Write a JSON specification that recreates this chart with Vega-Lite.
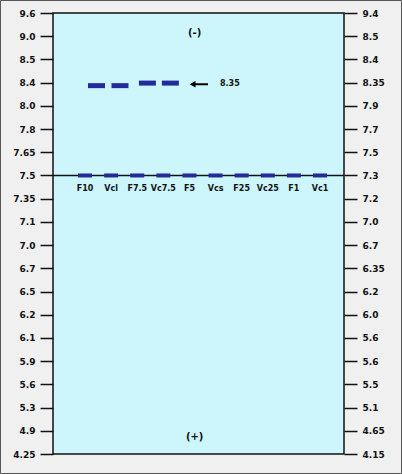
{
  "$schema": "https://vega.github.io/schema/vega-lite/v6.json",
  "width": 291,
  "height": 441,
  "autosize": {"type": "none"},
  "padding": {"left": 53, "top": 13, "right": 58, "bottom": 20},
  "background": "#f0f0f0",
  "config": {
    "view": {"fill": "#ccf6fc", "stroke": "#111111", "strokeWidth": 1.5},
    "font": "DejaVu Sans"
  },
  "datasets": {
    "bands": [
      {"lane": 1, "label": "F10", "pos": 7},
      {"lane": 2, "label": "Vcl", "pos": 7},
      {"lane": 3, "label": "F7.5", "pos": 7},
      {"lane": 4, "label": "Vc7.5", "pos": 7},
      {"lane": 5, "label": "F5", "pos": 7},
      {"lane": 6, "label": "Vcs", "pos": 7},
      {"lane": 7, "label": "F25", "pos": 7},
      {"lane": 8, "label": "Vc25", "pos": 7},
      {"lane": 9, "label": "F1", "pos": 7},
      {"lane": 10, "label": "Vc1", "pos": 7}
    ],
    "upper": [
      {"lane": 1.44, "pos": 3.13},
      {"lane": 2.34, "pos": 3.13},
      {"lane": 3.39, "pos": 3.02},
      {"lane": 4.27, "pos": 3.02}
    ],
    "notes": [
      {"lane": 5.2, "pos": 0.86, "text": "(-)"},
      {"lane": 5.2, "pos": 18.26, "text": "(+)"}
    ],
    "arrow": [
      {"from": 5.12, "to": 5.71, "pos": 3.07, "text": "8.35", "textLane": 6.17}
    ],
    "frame": [
      {"x1": -2.237, "x2": 13.122, "y1": -0.539, "y2": 19.84}
    ]
  },
  "encoding": {
    "x": {
      "field": "lane", "type": "quantitative",
      "scale": {"domain": [-0.226, 10.92], "nice": false, "zero": false},
      "axis": null
    },
    "y": {
      "field": "pos", "type": "quantitative",
      "scale": {"domain": [0, 19], "nice": false, "zero": false, "reverse": true},
      "axis": null
    }
  },
  "layer": [
    {
      "data": {"values": [{"pos": 0}]},
      "mark": {"type": "rule", "opacity": 0},
      "encoding": {
        "x": null,
        "y": {
          "field": "pos", "type": "quantitative",
          "scale": {"domain": [0, 19], "nice": false, "zero": false, "reverse": true},
          "axis": {
            "orient": "left",
            "values": [0,1,2,3,4,5,6,7,8,9,10,11,12,13,14,15,16,17,18,19],
            "labelExpr": "['9.6','9.0','8.5','8.4','8.0','7.8','7.65','7.5','7.35','7.1','7.0','6.7','6.5','6.2','6.1','5.9','5.6','5.3','4.9','4.25'][datum.value]",
            "title": null, "grid": false, "domain": false,
            "tickSize": 13, "tickColor": "#111111", "tickWidth": 1.5,
            "labelFont": "DejaVu Sans", "labelFontWeight": "bold", "labelFontSize": 9,
            "labelColor": "#111111", "labelPadding": 5, "labelFlush": false, "labelOverlap": false
          }
        }
      }
    },
    {
      "data": {"values": [{"pos": 0}]},
      "mark": {"type": "rule", "opacity": 0},
      "encoding": {
        "x": null,
        "y": {
          "field": "pos", "type": "quantitative",
          "scale": {"domain": [0, 19], "nice": false, "zero": false, "reverse": true},
          "axis": {
            "orient": "right",
            "values": [0,1,2,3,4,5,6,7,8,9,10,11,12,13,14,15,16,17,18,19],
            "labelExpr": "['9.4','8.5','8.4','8.35','7.9','7.7','7.5','7.3','7.2','7.0','6.7','6.35','6.2','6.0','5.6','5.6','5.5','5.1','4.65','4.15'][datum.value]",
            "title": null, "grid": false, "domain": false,
            "tickSize": 13, "tickColor": "#111111", "tickWidth": 1.5,
            "labelFont": "DejaVu Sans", "labelFontWeight": "bold", "labelFontSize": 9,
            "labelColor": "#111111", "labelPadding": 5, "labelFlush": false, "labelOverlap": false
          }
        }
      }
    },
    {
      "data": {"values": [{"pos": 7}]},
      "mark": {"type": "rule", "color": "#111111", "strokeWidth": 1.5},
      "encoding": {"x": null}
    },
    {
      "data": {"name": "bands"},
      "mark": {"type": "tick", "orient": "horizontal", "size": 14, "thickness": 4, "color": "#232b9b", "opacity": 1}
    },
    {
      "data": {"name": "bands"},
      "mark": {"type": "text", "dy": 14, "font": "DejaVu Sans", "fontWeight": "bold", "fontSize": 8, "color": "#111111", "baseline": "middle", "align": "center"},
      "encoding": {"text": {"field": "label"}}
    },
    {
      "data": {"name": "upper"},
      "mark": {"type": "tick", "orient": "horizontal", "size": 17, "thickness": 5, "color": "#232b9b", "opacity": 1}
    },
    {
      "data": {"name": "notes"},
      "mark": {"type": "text", "font": "DejaVu Sans", "fontWeight": "bold", "fontSize": 10, "color": "#111111", "baseline": "middle", "align": "center"},
      "encoding": {"text": {"field": "text"}}
    },
    {
      "data": {"name": "arrow"},
      "mark": {"type": "rule", "color": "#000000", "strokeWidth": 2},
      "encoding": {
        "x": {"field": "from", "type": "quantitative"},
        "x2": {"field": "to"}
      }
    },
    {
      "data": {"name": "arrow"},
      "mark": {"type": "point", "shape": "triangle-left", "filled": true, "color": "#000000", "opacity": 1, "size": 45},
      "encoding": {
        "x": {"field": "from", "type": "quantitative"}
      }
    },
    {
      "data": {"name": "arrow"},
      "mark": {"type": "text", "font": "DejaVu Sans", "fontWeight": "bold", "fontSize": 8, "color": "#111111", "baseline": "middle", "align": "left"},
      "encoding": {
        "x": {"field": "textLane", "type": "quantitative"},
        "text": {"field": "text"}
      }
    },
    {
      "data": {"name": "frame"},
      "mark": {"type": "rect", "fill": null, "fillOpacity": 0, "stroke": "#555555", "strokeWidth": 1, "clip": false},
      "encoding": {
        "x": {"field": "x1", "type": "quantitative"},
        "x2": {"field": "x2"},
        "y": {"field": "y1", "type": "quantitative"},
        "y2": {"field": "y2"}
      }
    }
  ]
}
